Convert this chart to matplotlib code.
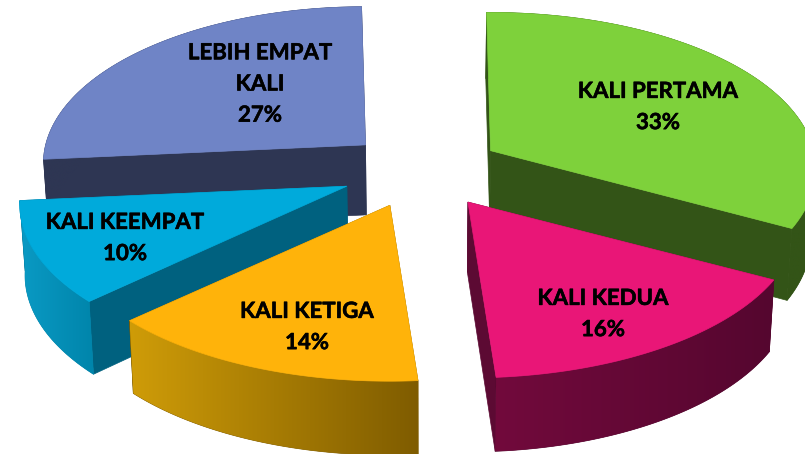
import numpy as np
import matplotlib
matplotlib.use("Agg")
import matplotlib.pyplot as plt
import matplotlib.patheffects as pe
from matplotlib.colors import LinearSegmentedColormap
from matplotlib.patches import Polygon

# Data
categories = ["KALI PERTAMA", "KALI KEDUA", "KALI KETIGA", "KALI KEEMPAT", "LEBIH EMPAT\nKALI"]
values = [33, 16, 14, 10, 27]
top_colors = ["#7ed13b", "#e91677", "#ffb30a", "#00aadb", "#6f84c6"]
wall_colors = ["#335417", "#5c0a33", "#7f5c00", "#00617f", "#2e3653"]
rim_left = ["#335417", "#720a3c", "#cf9c08", "#0a9ac4", "#2e3653"]
rim_right = ["#335417", "#55062f", "#7f5c00", "#0085ab", "#2e3653"]
label_pos = [(658, 107), (603, 314), (307, 327), (125, 238), (260, 84)]
draw_order = [4, 0, 3, 2, 1]

# Pie geometry in pixels
cx, cy = 423, 170
rx, ry = 328, 157
ex, ey = 82, 38
persp = 0.12
depth = 70
edge_shift = np.radians([-0.8, -0.8, -0.8, 0.4, 2.0, -0.8])  # the 3D view skews the slice edges a bit
nudge_x = [-3, 1, -3, -2, 4]
radius_x = [0.985, 1.0, 1.0, 0.99, 0.975]


def rim_point(theta, ox, oy, k):
    s = 1 - persp * np.cos(theta)
    return ox + rx * k * s * np.sin(theta), oy - ry * s * np.cos(theta)


def lower(x, y, theta=None):
    # bottom face sits a little closer to the middle and lower at the front
    d = depth if theta is None else depth - 4 * np.cos(theta)
    return x + (cx - x) * 0.013, y + d


fig = plt.figure(figsize=(8.05, 4.54), dpi=100)
ax = fig.add_axes([0, 0, 1, 1])

edges = np.cumsum([0] + values) / sum(values) * 2 * np.pi
z = 1

for i in draw_order:
    mid = (edges[i] + edges[i + 1]) / 2
    t0, t1 = edges[i] + edge_shift[i], edges[i + 1] + edge_shift[i + 1]
    ox = cx + ex * np.sin(mid) + nudge_x[i]
    oy = cy - ey * np.cos(mid)
    theta = np.linspace(t0, t1, 160)
    xs, ys = rim_point(theta, ox, oy, radius_x[i])
    bx, by = lower(xs, ys, theta)
    obx, oby = lower(ox, oy)

    # cut faces
    for k in (0, -1):
        wall = [(ox, oy), (xs[k], ys[k]), (bx[k], by[k]), (obx, oby)]
        ax.add_patch(Polygon(wall, closed=True, fc=wall_colors[i], ec=wall_colors[i], lw=0.5, zorder=z))
        z += 1

    # outer face, shaded from left to right
    outline = np.vstack([np.column_stack([xs, ys]), np.column_stack([bx, by])[::-1]])
    shape = Polygon(outline, closed=True, fc=rim_right[i], ec=rim_right[i], lw=0.5, zorder=z)
    ax.add_patch(shape)
    z += 1
    cmap = LinearSegmentedColormap.from_list("rim", [rim_left[i], rim_right[i]])
    im = ax.imshow(np.linspace(0, 1, 256).reshape(1, -1), cmap=cmap, aspect="auto", interpolation="bilinear",
                   extent=(outline[:, 0].min(), outline[:, 0].max(), outline[:, 1].max(), outline[:, 1].min()),
                   zorder=z)
    im.set_clip_path(shape)
    z += 1

    # top face
    top = [(ox, oy)] + list(zip(xs, ys))
    ax.add_patch(Polygon(top, closed=True, fc=top_colors[i], ec=top_colors[i], lw=0.5, zorder=z))
    z += 1

for i, name in enumerate(categories):
    ax.text(label_pos[i][0], label_pos[i][1], f"{name}\n{values[i]}%", ha="center", va="center",
            family="Lato", fontweight="bold", fontsize=16, linespacing=1.6, color="black", zorder=z,
            path_effects=[pe.withStroke(linewidth=0.4, foreground="black")])

ax.set_xlim(0, 805)
ax.set_ylim(454, 0)
ax.axis("off")

fig.savefig("out.png", dpi=100)
